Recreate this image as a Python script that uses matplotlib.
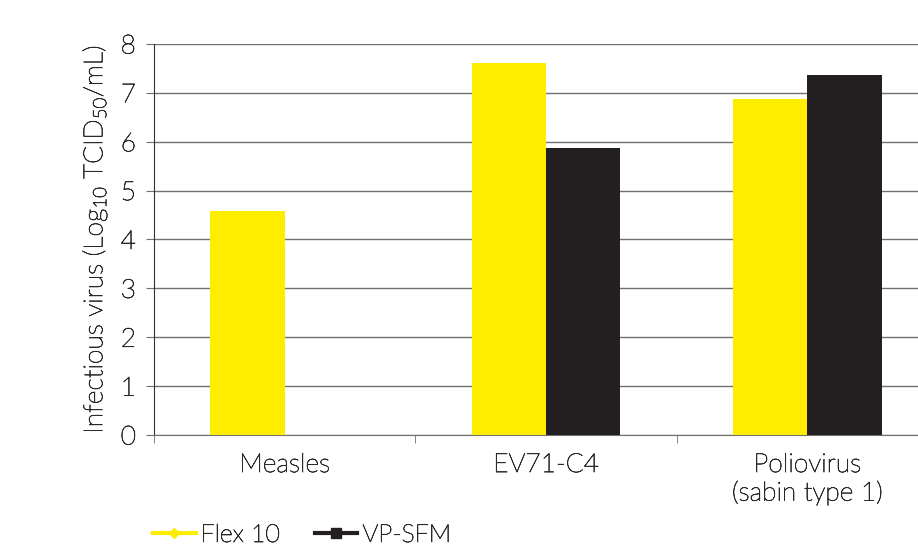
import matplotlib
matplotlib.use("Agg")
import matplotlib.pyplot as plt
import matplotlib.patheffects as pe
from matplotlib.lines import Line2D
from matplotlib.text import Text
import numpy as np

categories = ["Measles", "EV71-C4", "Poliovirus\n(sabin type 1)"]
flex10 = [4.58, 7.61, 6.87]
vp_sfm = [np.nan, 5.87, 7.37]
y_ticks = [0, 1, 2, 3, 4, 5, 6, 7, 8]

YELLOW = "#FFED00"
BLACK = "#231F20"
GRID = "#707070"
TEXT = "#2a2a2a"

plt.rcParams['font.family'] = ['Lato', 'DejaVu Sans']
plt.rcParams['font.weight'] = 'light'
plt.rcParams['axes.labelweight'] = 'light'
plt.rcParams['mathtext.fontset'] = 'custom'
plt.rcParams['mathtext.rm'] = 'Lato:light'
plt.rcParams['mathtext.default'] = 'rm'


def main():
    fig = plt.figure(figsize=(9.18, 5.46), dpi=100)
    ax = fig.add_axes([154 / 918, 111 / 546, 784 / 918, 391 / 546])

    x = np.arange(len(categories))
    width = 0.284
    ax.bar(x - width / 2, flex10, width, color=YELLOW, zorder=3)
    ax.bar(x + width / 2, vp_sfm, width, color=BLACK, zorder=3)

    ax.set_xlim(-0.5, len(categories) - 0.5)
    ax.set_ylim(0, 8)
    ax.set_yticks(y_ticks)
    ax.yaxis.grid(True, color=GRID, linewidth=1.0, zorder=0)
    ax.set_axisbelow(True)

    ax.set_xticks(x)
    ax.set_xticklabels(categories, fontsize=19, color=TEXT,
                       linespacing=1.2, va='top')
    ax.tick_params(axis='x', length=0, pad=13)
    ax.set_xticks(np.arange(-0.5, len(categories)), minor=True)
    ax.tick_params(axis='x', which='minor', length=6, color=GRID,
                   direction='out')

    ax.tick_params(axis='y', length=6, color=GRID, labelsize=19,
                   labelcolor=TEXT, pad=7)

    for side in ['top', 'right']:
        ax.spines[side].set_visible(False)
    ax.spines['left'].set_color("#333333")
    ax.spines['bottom'].set_color(GRID)

    ax.set_ylabel("Infectious virus (Log$_{10}$ TCID$_{50}$/mL)",
                  fontsize=19, fontweight='light', color=TEXT, labelpad=8)

    handles = [
        Line2D([], [], color=YELLOW, linewidth=3, marker='D',
               markersize=5),
        Line2D([], [], color=BLACK, linewidth=3, marker='s',
               markersize=7),
    ]
    fig.legend(handles, ["Flex 10", "VP-SFM"], loc='upper left',
               bbox_to_anchor=(143 / 918, 1 - 513 / 546), ncol=2,
               frameon=False, fontsize=18, handlelength=1.7,
               handletextpad=0.2, columnspacing=1.4, borderaxespad=0,
               labelcolor=TEXT)

    # thicken the light strokes a little
    for t in fig.findobj(Text):
        t.set_path_effects([pe.withStroke(linewidth=0.5, foreground=TEXT)])

    fig.savefig("out.png", dpi=100)


if __name__ == "__main__":
    main()
